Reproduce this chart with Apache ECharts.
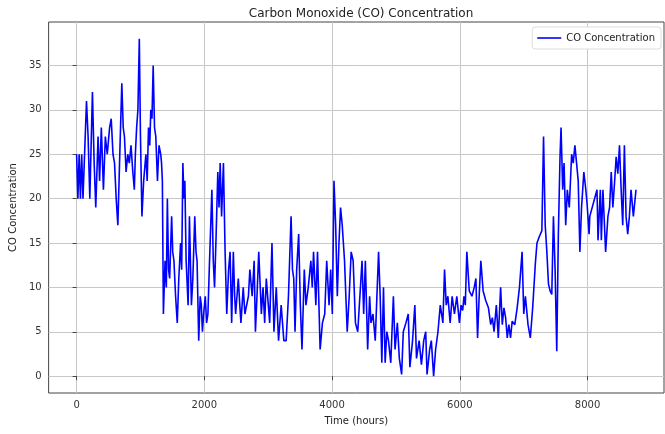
<!DOCTYPE html>
<html>
<head>
    <meta charset="utf-8">
    <script src="https://cdn.jsdelivr.net/npm/echarts@6/dist/echarts.min.js"></script>
</head>
<body style="margin:0">
<div id="main" style="width:665px;height:434px"></div>
<script type="text/javascript">
    // values (hour, CO concentration)
    var hours = [0, 20, 40, 60, 80, 100, 130, 155, 180, 207, 248, 275, 300, 336, 360, 387, 420, 450, 480, 517,
        542, 570, 594, 620, 646, 680, 708, 730, 749, 775, 801, 825, 852, 880, 904, 920, 940, 960, 982, 1000,
        1023, 1050, 1085, 1105, 1126, 1145, 1162, 1180, 1199, 1220, 1240, 1266, 1290, 1317, 1330, 1343, 1359, 1385, 1405, 1421,
        1440, 1457, 1488, 1505, 1524, 1550, 1576, 1600, 1628, 1645, 1664, 1680, 1695, 1715, 1746, 1767, 1785, 1798, 1820, 1850,
        1870, 1886, 1912, 1935, 1953, 1970, 1989, 2015, 2035, 2056, 2077, 2100, 2118, 2140, 2160, 2185, 2211, 2230, 2248, 2270,
        2299, 2325, 2351, 2380, 2403, 2428, 2454, 2475, 2490, 2532, 2555, 2573, 2609, 2635, 2661, 2690, 2713, 2749, 2780, 2800,
        2830, 2852, 2893, 2919, 2945, 2970, 2986, 3023, 3059, 3090, 3126, 3162, 3203, 3245, 3281, 3317, 3358, 3380, 3400, 3420,
        3446, 3477, 3503, 3529, 3565, 3591, 3627, 3668, 3690, 3710, 3746, 3772, 3813, 3849, 3885, 3916, 3953, 3978, 4004, 4030,
        4056, 4082, 4108, 4133, 4159, 4195, 4237, 4268, 4299, 4330, 4366, 4402, 4444, 4469, 4495, 4521, 4557, 4588, 4609, 4640,
        4676, 4728, 4753, 4779, 4805, 4831, 4857, 4883, 4919, 4960, 4986, 5022, 5053, 5089, 5115, 5156, 5193, 5218, 5260, 5296,
        5322, 5363, 5399, 5435, 5466, 5487, 5528, 5554, 5590, 5621, 5658, 5694, 5735, 5761, 5787, 5813, 5849, 5880, 5916, 5953,
        5994, 6019, 6045, 6065, 6086, 6110, 6148, 6190, 6226, 6252, 6278, 6303, 6329, 6365, 6407, 6448, 6484, 6510, 6536, 6572,
        6603, 6639, 6665, 6691, 6717, 6743, 6768, 6794, 6820, 6861, 6898, 6934, 6975, 7001, 7027, 7068, 7104, 7141, 7182, 7208,
        7244, 7285, 7311, 7337, 7363, 7388, 7414, 7440, 7466, 7492, 7518, 7543, 7569, 7585, 7611, 7632, 7658, 7683, 7714, 7751,
        7776, 7802, 7828, 7854, 7880, 7906, 7942, 7973, 7993, 8024, 8035, 8148, 8164, 8200, 8216, 8241, 8283, 8319, 8345, 8371,
        8396, 8422, 8448, 8474, 8500, 8526, 8551, 8577, 8603, 8629, 8655, 8681, 8717, 8759];

    var coValues = [25, 20, 25, 20, 25, 20, 26, 31, 27, 20, 32, 24, 19, 27, 22, 28, 21, 27, 25, 28,
        29, 25, 24, 20, 17, 26, 33, 28, 27, 23, 25, 24, 26, 23, 21, 25, 28, 30, 38, 27,
        18, 22, 25, 22, 28, 26, 30, 29, 35, 28, 27, 22, 26, 25, 24, 22, 7, 13, 10, 20,
        12, 11, 18, 14, 13, 9, 6, 11, 15, 12, 24, 20, 22, 13, 8, 18, 12, 8, 11, 18,
        14, 13, 4, 9, 8, 5, 7, 9, 6, 7, 12, 17, 21, 13, 10, 16, 23, 19, 24, 18,
        24, 14, 7, 12, 14, 6, 14, 9, 7, 11, 8, 6, 10, 7, 7, 9, 12, 9, 13, 5,
        10, 14, 7, 10, 6, 11, 11, 6, 15, 5, 10, 4, 8, 4, 4, 9, 18, 12, 11, 5,
        12, 16, 8, 3, 12, 8, 10, 13, 10, 14, 8, 14, 3, 6, 7, 13, 8, 12, 7, 22,
        17, 9, 15, 19, 17, 13, 5, 9, 14, 13, 6, 5, 10, 13, 7, 13, 3, 9, 6, 7,
        4, 14, 9, 1.5, 10, 1.5, 5, 4, 1.5, 9, 3, 6, 2, 0.2, 5, 6, 7, 1, 4, 8,
        2, 4, 1.3, 4, 5, 0.2, 3, 4, 0, 3, 5, 8, 6, 12, 8, 9, 6, 9, 7, 9,
        6, 8, 7.4, 9, 8, 14, 9.6, 9, 10, 11, 4.3, 9, 13, 9.6, 8.5, 7.7, 5.8, 6.6, 5, 8,
        4.3, 10, 5.8, 7.7, 6.6, 4.3, 5.8, 4.3, 6.2, 5.8, 7.7, 10, 14, 7, 9, 5.8, 4.3, 7.7, 12.6, 15,
        15.7, 16.4, 27, 17, 14, 10.4, 9.6, 9.2, 18, 12, 2.8, 16, 24.7, 28, 21, 24, 17, 21, 19, 25,
        24, 26, 26, 22, 14, 19, 23, 21, 19.4, 16, 18, 21, 15.3, 21, 15.3, 21, 14, 18, 19, 23,
        19, 21.7, 24.7, 22.8, 26, 21, 17, 26, 18, 16, 18, 21, 18, 21];

    var xTicks = [0, 2000, 4000, 6000, 8000];
    var yTicks = [0, 5, 10, 15, 20, 25, 30, 35];

    var points = hours.map(function (h, i) {
        return [h, coValues[i]];
    });

    var font = 'DejaVu Sans';
    var myChart = echarts.init(document.getElementById('main'));

    option = {
        animation: false,
        backgroundColor: '#fff',
        textStyle: {fontFamily: font},
        title: {
            text: 'Carbon Monoxide (CO) Concentration',
            left: 356,
            textAlign: 'center',
            top: 3,
            textStyle: {fontFamily: font, fontSize: 12, fontWeight: 'normal', color: '#222'}
        },
        legend: {
            right: 4,
            top: 27,
            icon: 'rect',
            itemWidth: 24,
            itemHeight: 1.6,
            itemGap: 6,
            padding: [6, 6, 6, 5],
            backgroundColor: '#fff',
            borderColor: '#ddd',
            borderWidth: 1,
            borderRadius: 3,
            textStyle: {fontFamily: font, fontSize: 10, color: '#222'}
        },
        grid: {
            left: 47, right: 1, top: 22, bottom: 41,
            show: true,
            borderColor: '#444',
            borderWidth: 1
        },
        xAxis: {
            type: 'value',
            min: -438,
            max: 9197,
            name: 'Time (hours)',
            nameLocation: 'middle',
            nameGap: 23,
            nameTextStyle: {fontFamily: font, fontSize: 10, color: '#222'},
            axisLine: {show: false},
            axisTick: {show: true, length: 4, customValues: xTicks, lineStyle: {color: '#444'}},
            axisLabel: {
                customValues: xTicks, fontSize: 10, color: '#333', margin: 7,
                formatter: function (v) { return String(v); }
            },
            splitLine: {show: true, lineStyle: {color: '#c8c8c8', width: 1}}
        },
        yAxis: {
            type: 'value',
            min: -1.9,
            max: 39.9,
            name: 'CO Concentration',
            nameLocation: 'middle',
            nameGap: 30,
            nameTextStyle: {fontFamily: font, fontSize: 10, color: '#222'},
            axisLine: {show: false},
            axisTick: {show: true, length: 4, customValues: yTicks, lineStyle: {color: '#444'}},
            axisLabel: {
                customValues: yTicks, fontSize: 10, color: '#333', margin: 7,
                formatter: function (v) { return String(v); }
            },
            splitLine: {show: true, lineStyle: {color: '#c8c8c8', width: 1}}
        },
        series: [{
            name: 'CO Concentration',
            type: 'line',
            data: points,
            showSymbol: false,
            symbol: 'none',
            sampling: null,
            lineStyle: {color: '#0000ff', width: 1.6},
            itemStyle: {color: '#0000ff'}
        }]
    };

    myChart.setOption(option);
</script>
</body>
</html>
